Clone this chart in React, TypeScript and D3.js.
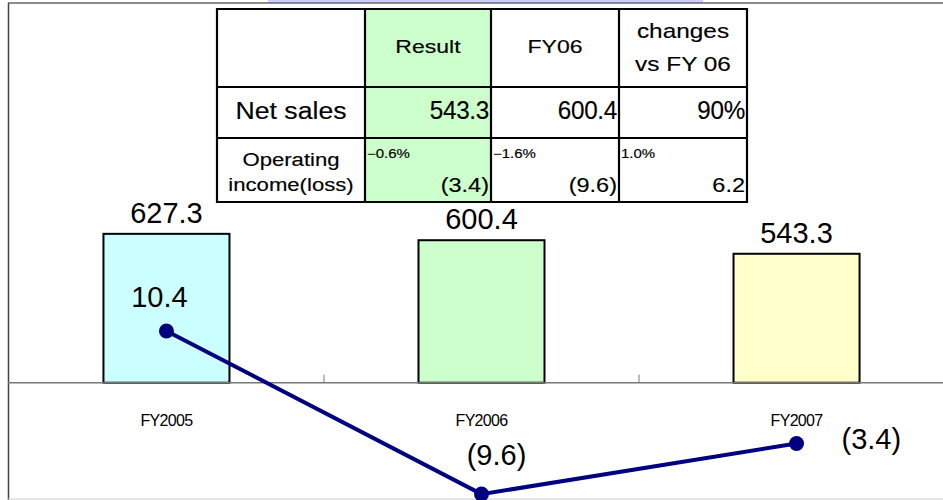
import * as d3 from "d3";

// chart data
const categories = ["FY2005", "FY2006", "FY2007"];
const netSales = [627.3, 600.4, 543.3];
const opIncome = [10.4, -9.6, -3.4];
const opIncomeLabels = ["10.4", "(9.6)", "(3.4)"];
const barColors = ["#ccffff", "#ccffcc", "#ffffcc"];

// summary table
const tableHeaders = ["", "Result", "FY06", "changes|vs FY 06"];
const salesRow = ["Net sales", "543.3", "600.4", "90%"];
const incomeRow = ["Operating|income(loss)", "(3.4)", "(9.6)", "6.2"];
const marginRow = ["", "\u22120.6%", "\u22121.6%", "1.0%"];
const tableCols = [217, 365, 491, 619, 747];
const tableRows = [9, 87, 138, 202];

const W = 943;
const H = 500;
const font = "'Liberation Sans', Arial, sans-serif";

// the table font has wide letters, so stretch Arial a bit
function TText({ x, y, size, sx = 1, anchor = "start", ls = 0, children }: any) {
  return (
    <text
      transform={`translate(${x},${y}) scale(${sx},1)`}
      textAnchor={anchor}
      fontFamily={font}
      fontSize={size}
      letterSpacing={ls}
      fill="#000"
      stroke="#000"
      strokeWidth={0.15}
    >
      {children}
    </text>
  );
}

export default function App() {
  const x = d3.scaleBand().domain(categories).range([8, 955]).paddingInner(0.6).paddingOuter(0.303);
  const ySales = d3.scaleLinear().domain([-490, 1600]).range([499, 3]);
  const yIncome = d3.scaleLinear().domain([-10.2, 50.6]).range([499, 3]);

  const cx = (c: string) => (x(c) as number) + x.bandwidth() / 2;
  const linePath = d3
    .line<number>()
    .x((_, i) => cx(categories[i]))
    .y((d) => yIncome(d))(opIncome);

  const labelOffsets: [number, number, string][] = [
    [-7, -24, "middle"],
    [15, -29, "middle"],
    [45, 5, "start"],
  ];

  const ticks = categories.slice(0, -1).map((c) => cx(c) + x.step() / 2);
  const colMid = (i: number) => (tableCols[i] + tableCols[i + 1]) / 2;

  return (
    <svg width={W} height={H} style={{ position: "absolute", left: 0, top: 0, background: "#fff" }}>
      {/* frame */}
      <rect x={268} y={0} width={435} height={3} fill="#ccccff" />
      <line x1={8} x2={W} y1={3} y2={3} stroke="#666" strokeWidth={1.5} />
      <line x1={8.5} x2={8.5} y1={3} y2={H} stroke="#444" strokeWidth={1.5} />
      <line x1={8} x2={W} y1={499} y2={499} stroke="#ccc" strokeWidth={1} />

      {/* bars */}
      {categories.map((c, i) => (
        <g key={c}>
          <rect
            x={x(c)}
            y={ySales(netSales[i])}
            width={x.bandwidth()}
            height={ySales(0) - ySales(netSales[i])}
            fill={barColors[i]}
            stroke="#000"
            strokeWidth={2}
          />
          <text x={cx(c)} y={ySales(netSales[i]) - 11} textAnchor="middle" fontFamily={font} fontSize={29}>
            {netSales[i].toFixed(1)}
          </text>
          <text x={cx(c)} y={426} textAnchor="middle" fontFamily={font} fontSize={16} letterSpacing={-0.7}>
            {c}
          </text>
        </g>
      ))}

      {/* axis */}
      <line x1={8} x2={W} y1={ySales(0)} y2={ySales(0)} stroke="#777" strokeWidth={1.5} />
      {ticks.map((t) => (
        <line key={t} x1={t} x2={t} y1={ySales(0) - 8} y2={ySales(0)} stroke="#777" strokeWidth={1} />
      ))}

      {/* operating income line */}
      <path d={linePath ?? ""} fill="none" stroke="#000080" strokeWidth={4} />
      {opIncome.map((v, i) => (
        <g key={i}>
          <ellipse cx={cx(categories[i])} cy={yIncome(v)} rx={7.5} ry={7.5} fill="#000080" />
          <text
            x={cx(categories[i]) + labelOffsets[i][0]}
            y={yIncome(v) + labelOffsets[i][1]}
            textAnchor={labelOffsets[i][2]}
            fontFamily={font}
            fontSize={29}
          >
            {opIncomeLabels[i]}
          </text>
        </g>
      ))}

      {/* table */}
      <g>
        <rect
          x={tableCols[1]}
          y={tableRows[0]}
          width={tableCols[2] - tableCols[1]}
          height={tableRows[3] - tableRows[0]}
          fill="#ccffcc"
        />
        {tableCols.map((c) => (
          <line key={"c" + c} x1={c} x2={c} y1={tableRows[0] - 1} y2={tableRows[3] + 1} stroke="#000" strokeWidth={2.2} />
        ))}
        {tableRows.map((r) => (
          <line key={"r" + r} x1={tableCols[0] - 1} x2={tableCols[4] + 1} y1={r} y2={r} stroke="#000" strokeWidth={2.2} />
        ))}
        {tableHeaders.map((h, i) => {
          const lines = h.split("|");
          return lines.map((l, j) =>
            lines.length > 1 ? (
              <TText key={i + "-" + j} x={colMid(i)} y={38 + j * 33} size={20} sx={1.22} anchor="middle">
                {l}
              </TText>
            ) : (
              <TText key={i + "-" + j} x={colMid(i)} y={53} size={18} sx={1.28} anchor="middle">
                {l}
              </TText>
            )
          );
        })}
        {salesRow.map((s, i) =>
          i === 0 ? (
            <TText key={s} x={colMid(0)} y={119} size={23} sx={1.16} anchor="middle">
              {s}
            </TText>
          ) : (
            <TText key={s} x={tableCols[i + 1] - 2} y={119} size={25} sx={0.97} ls={-0.3} anchor="end">
              {s}
            </TText>
          )
        )}
        {incomeRow.map((s, i) =>
          i === 0 ? (
            s.split("|").map((l, j) => (
              <TText key={l} x={colMid(0)} y={166 + j * 25} size={18} sx={1.23} anchor="middle">
                {l}
              </TText>
            ))
          ) : (
            <TText key={s} x={tableCols[i + 1] - 2} y={192} size={21} sx={1.12} anchor="end">
              {s}
            </TText>
          )
        )}
        {marginRow.map((s, i) =>
          i === 0 ? null : (
            <TText key={s} x={tableCols[i] + 2} y={158} size={12} sx={1.25}>
              {s}
            </TText>
          )
        )}
      </g>
    </svg>
  );
}
